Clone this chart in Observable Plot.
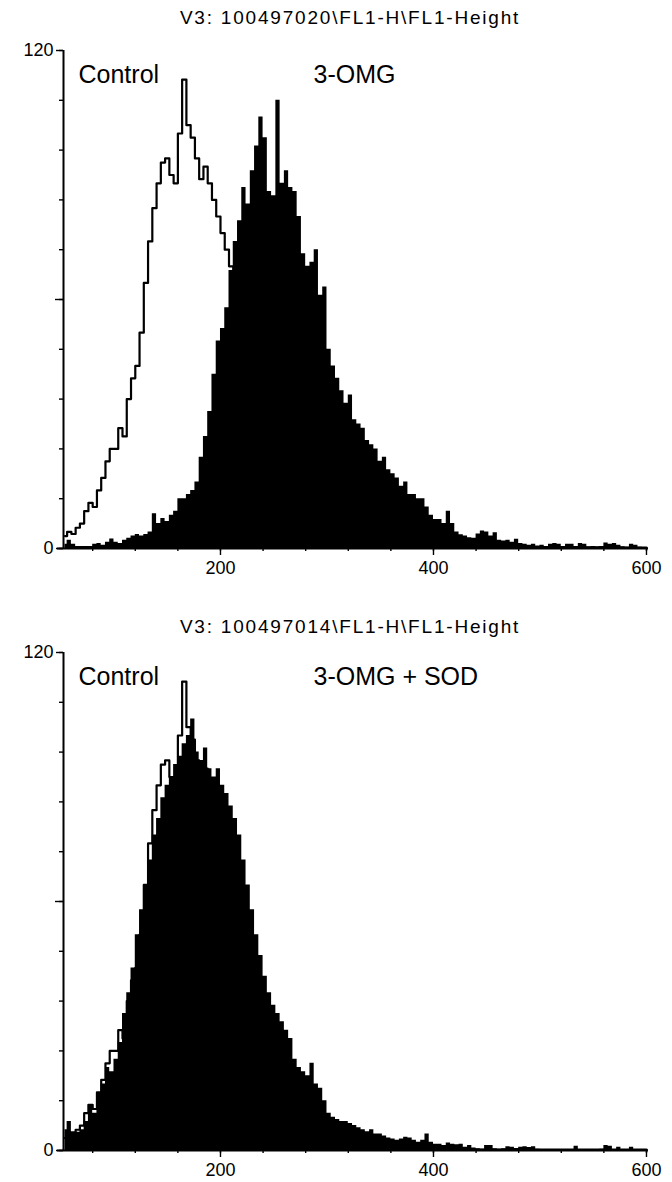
<!DOCTYPE html>
<html><head><meta charset="utf-8">
<script src="https://cdn.jsdelivr.net/npm/d3@7"></script>
<script src="https://cdn.jsdelivr.net/npm/@observablehq/plot@0.6"></script>
<style>
html,body{margin:0;padding:0;background:#fff}
body{width:672px;height:1182px;overflow:hidden;position:relative;font-family:"Liberation Sans",Arial,sans-serif;color:#000}
.title{position:absolute;left:14px;width:672px;text-align:center;font-size:19px;letter-spacing:1.8px;line-height:20px;z-index:2;white-space:nowrap}
.panel{position:absolute;left:0;z-index:1}
</style></head><body>
<div id="t1" class="title" style="top:8px"></div>
<div id="p1" class="panel" style="top:30px"></div>
<div id="t2" class="title" style="top:617px"></div>
<div id="p2" class="panel" style="top:632px"></div>
<script>
// Chart titles and annotations
const titles = ["V3: 100497020\\FL1-H\\FL1-Height", "V3: 100497014\\FL1-H\\FL1-Height"];
const controlLabel = "Control";
const treatmentLabels = ["3-OMG", "3-OMG + SOD"];

// Histogram channels (FL1-Height), bins of 4 starting at 52
const binStart = 52, binWidth = 4;

// Control histogram (outline), counts per bin
const controlCounts = [
  3, 4, 3.5, 5, 6, 9, 11, 10, 14, 17,
  21, 24, 24, 29, 27, 36, 41, 44, 52, 64,
  74, 82, 88, 93, 94, 90, 88, 100, 113, 102,
  99, 94, 89, 92, 88, 84, 80, 76, 72, 68,
  62, 56, 50, 44, 38, 32, 27, 22, 18, 15,
  12, 10, 8, 6, 5, 4, 3, 3, 2, 2,
  2, 1, 1, 1, 1, 1, 1, 0.5, 0.5, 0.5,
  0.5, 0.5, 0.5, 0.5, 0.5, 0.5, 0.5, 0.5, 0.5, 0.5,
  0.5, 0.5, 0.4, 0.4, 0.4, 0.4, 0.3, 0.3, 0.3, 0.3,
  0.3, 0.3, 0.3, 0.3, 0.2, 0.2, 0.2, 0.2, 0.2, 0.2,
  0.2, 0.2, 0.2, 0.2, 0.2, 0.2, 0.2, 0.2, 0.2, 0.2,
  0.2, 0.2, 0.2, 0.2, 0.2, 0.2, 0.2, 0.2, 0.2, 0.2,
  0.2, 0.2, 0.2, 0.2, 0.2, 0.2, 0.2, 0.2, 0.2, 0.2,
  0.2, 0.2, 0.2, 0.2, 0.2, 0.2, 0.2, 0
];

// 3-OMG histogram (filled), counts per bin
const omgCounts = [
  1, 2, 1, 0.5, 0.5, 0.5, 0.5, 1, 1.2, 0.8,
  1.5, 2.3, 1.5, 1.2, 2, 2.5, 3, 3.4, 3, 3.4,
  4, 8.4, 6, 7.2, 6.5, 8, 9, 12, 12, 13,
  14, 16, 22, 27, 33, 42, 50, 53, 58, 67,
  74, 79, 87, 83, 91, 97, 104, 99, 86, 85,
  108, 88, 91, 87, 86, 80, 71, 68, 69, 72,
  61, 63, 48, 44, 41, 38, 35, 37, 31, 30,
  29, 26, 25, 24, 21, 22, 19, 18, 17, 15,
  16, 13, 13, 12, 12, 10, 8, 7, 7, 6,
  9, 6, 4, 3.3, 3, 2.6, 2.5, 3.5, 4.2, 4,
  3, 3.8, 2, 1.8, 2, 1.5, 2.2, 1.2, 1, 0.8,
  1, 0.6, 0.8, 0.5, 1, 1.2, 1, 0.5, 1, 1,
  0.5, 1.2, 1, 0.4, 0.5, 0.4, 0.5, 1.3, 1, 1.2,
  0.8, 0.4, 0.3, 1, 0.8, 0.3, 0.2, 0
];

// 3-OMG + SOD histogram (filled), counts per bin
const omgSodCounts = [
  5, 7, 4.5, 4.4, 5, 7, 11, 9, 14, 16,
  20, 19, 22, 26, 33, 38, 44, 52, 58, 64,
  70, 76, 80, 85, 88, 90, 93, 95, 98, 100,
  104, 96, 94, 97, 92, 90, 92, 88, 86, 83,
  80, 76, 70, 64, 58, 52, 47, 42, 38, 35,
  33, 31, 29, 27, 22, 20, 19, 18, 21, 16,
  15, 12, 9, 8, 7.5, 7, 7, 6.5, 6, 5.5,
  5, 4.5, 5, 4, 4, 3.5, 3, 2.8, 2.5, 2.8,
  3.2, 3, 2.5, 2, 2.5, 4, 2, 1.5, 1.5, 1.2,
  1.8, 1.5, 1.4, 1.5, 0.8, 1.2, 0.6, 0.4, 0.3, 1.2,
  1.2, 0.4, 0.3, 0.4, 0.9, 0.8, 0.5, 0.8, 0.9, 0.7,
  0.9, 0.3, 0.2, 0, 0, 0, 0.1, 0, 0, 0,
  1, 0, 0, 0, 0, 0, 0.3, 1.2, 1, 0.2,
  0.8, 0.2, 0, 0.8, 0, 0, 0, 0
];

// Axis ticks
const xDomain = [52.6, 601.9];
const yDomain = [0, 120];
const xMinorTicks = [80, 120, 160, 200, 240, 280, 320, 360, 400, 440, 480, 520, 560, 600];
const xLabelTicks = [200, 400, 600];
const yMinorTicks = [0, 12, 24, 36, 48, 60, 72, 84, 96, 108, 120];
const yMidTicks = [60];
const yLabelTicks = [0, 120];

function panel(treatCounts, treatLabel) {
  const data = controlCounts.map((c, i) => ({
    x: binStart + i * binWidth + binWidth / 2,
    control: c,
    treat: treatCounts[i]
  }));
  const blank = () => "";
  return Plot.plot({
    width: 672,
    height: 550,
    marginLeft: 63,
    marginRight: 24,
    marginTop: 20,
    marginBottom: 32,
    x: {domain: xDomain},
    y: {domain: yDomain},
    style: {background: "transparent", color: "#000", fontFamily: "'Liberation Sans', Arial, sans-serif", fontSize: "18px", overflow: "visible"},
    marks: [
      Plot.lineY(data, {x: "x", y: "control", curve: "step", stroke: "#000", strokeWidth: 2.2, clip: true}),
      Plot.areaY(data, {x: "x", y: "treat", curve: "step", fill: "#000", clip: true}),
      Plot.ruleX([xDomain[0]], {y1: yDomain[0], y2: yDomain[1], stroke: "#000", strokeWidth: 2}),
      Plot.ruleY([0], {x1: 47, x2: xDomain[1], stroke: "#000", strokeWidth: 2}),
      Plot.axisY({ticks: yMinorTicks, tickSize: 4, tickFormat: blank, label: null, strokeWidth: 1.4}),
      Plot.axisY({ticks: yMidTicks, tickSize: 8, tickFormat: blank, label: null, strokeWidth: 1.4}),
      Plot.axisY({ticks: yLabelTicks, tickSize: 7, tickPadding: 3, label: null, fontSize: 18, strokeWidth: 1.4}),
      Plot.axisX({ticks: xMinorTicks, tickSize: 3, tickFormat: blank, label: null, strokeWidth: 1.4}),
      Plot.axisX({ticks: xLabelTicks, tickSize: 7, tickPadding: 6, label: null, fontSize: 18, strokeWidth: 1.4}),
      Plot.text([controlLabel], {frameAnchor: "top-left", dx: 15, dy: 24, lineAnchor: "middle", fontSize: 25, fill: "#000"}),
      Plot.text([treatLabel], {frameAnchor: "top-left", dx: 250, dy: 24, lineAnchor: "middle", fontSize: 25, fill: "#000"})
    ]
  });
}

document.getElementById("t1").textContent = titles[0];
document.getElementById("t2").textContent = titles[1];
document.getElementById("p1").appendChild(panel(omgCounts, treatmentLabels[0]));
document.getElementById("p2").appendChild(panel(omgSodCounts, treatmentLabels[1]));
</script>
</body></html>
